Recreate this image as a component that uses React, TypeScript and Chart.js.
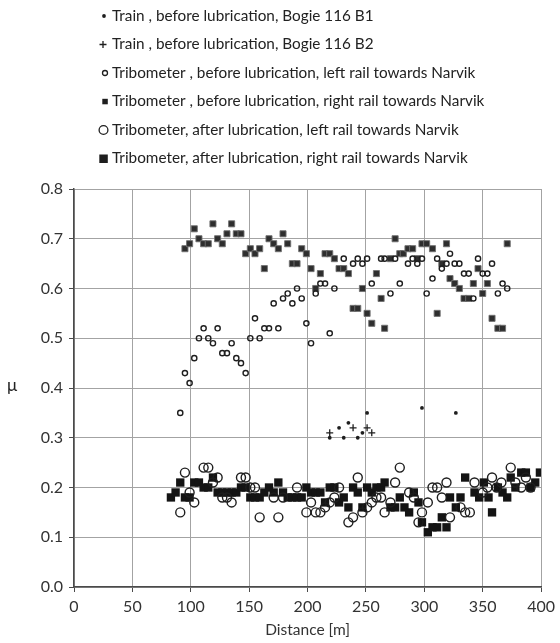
import React, { useEffect, useRef } from 'react';
import { Chart, registerables } from 'chart.js';

Chart.register(...registerables);

// Train, before lubrication, Bogie 116 B1
const distTrainB1 = [219, 227, 231, 235, 243, 247, 251, 298, 327];
const muTrainB1 = [0.30, 0.32, 0.30, 0.33, 0.30, 0.31, 0.35, 0.36, 0.35];

// Train, before lubrication, Bogie 116 B2
const distTrainB2 = [219, 239, 251, 255];
const muTrainB2 = [0.31, 0.32, 0.32, 0.31];

// Tribometer, before lubrication, left rail
const distBeforeLeft = [91, 95, 99, 103, 107, 111, 115, 119, 123, 127, 131, 135, 139, 143, 147, 151, 155, 159, 163, 167, 171, 175, 179, 183, 187, 191, 195, 199, 203, 207, 211, 215, 219, 223, 231, 239, 243, 247, 251, 255, 263, 266, 271, 275, 279, 286, 290, 294, 298, 302, 307, 311, 315, 319, 322, 326, 330, 334, 338, 342, 346, 350, 354, 358, 363, 367, 371];
const muBeforeLeft = [0.35, 0.43, 0.41, 0.46, 0.50, 0.52, 0.50, 0.49, 0.52, 0.47, 0.47, 0.49, 0.46, 0.45, 0.43, 0.50, 0.54, 0.50, 0.52, 0.52, 0.57, 0.52, 0.58, 0.59, 0.57, 0.60, 0.58, 0.53, 0.49, 0.59, 0.61, 0.61, 0.51, 0.60, 0.66, 0.65, 0.66, 0.65, 0.66, 0.61, 0.66, 0.66, 0.59, 0.66, 0.61, 0.65, 0.66, 0.65, 0.66, 0.59, 0.62, 0.66, 0.64, 0.65, 0.67, 0.65, 0.65, 0.63, 0.63, 0.58, 0.66, 0.63, 0.63, 0.65, 0.59, 0.61, 0.60];

// Tribometer, before lubrication, right rail
const distBeforeRight = [95, 99, 103, 107, 111, 115, 119, 123, 127, 131, 135, 139, 143, 147, 151, 155, 159, 163, 167, 171, 175, 179, 183, 187, 191, 195, 199, 203, 207, 211, 215, 219, 223, 227, 231, 235, 239, 243, 247, 251, 255, 259, 263, 266, 271, 275, 279, 282, 286, 290, 294, 298, 302, 307, 311, 315, 319, 322, 326, 330, 334, 338, 342, 346, 350, 354, 358, 363, 367, 371];
const muBeforeRight = [0.68, 0.69, 0.72, 0.70, 0.69, 0.69, 0.73, 0.70, 0.69, 0.71, 0.73, 0.71, 0.71, 0.67, 0.68, 0.67, 0.68, 0.64, 0.70, 0.69, 0.68, 0.71, 0.69, 0.65, 0.65, 0.68, 0.67, 0.64, 0.60, 0.63, 0.67, 0.67, 0.66, 0.64, 0.64, 0.63, 0.56, 0.56, 0.60, 0.55, 0.53, 0.63, 0.58, 0.52, 0.66, 0.70, 0.67, 0.67, 0.68, 0.68, 0.66, 0.69, 0.69, 0.68, 0.55, 0.65, 0.69, 0.62, 0.61, 0.60, 0.58, 0.58, 0.61, 0.64, 0.59, 0.61, 0.54, 0.52, 0.52, 0.69];

// Tribometer, after lubrication, left rail
const distAfterLeft = [91, 95, 99, 103, 111, 115, 119, 123, 127, 131, 135, 143, 147, 151, 155, 159, 171, 175, 179, 191, 199, 203, 207, 211, 215, 219, 223, 227, 235, 239, 243, 247, 251, 255, 259, 263, 266, 271, 275, 279, 287, 291, 295, 298, 303, 307, 311, 315, 319, 322, 331, 335, 339, 343, 350, 354, 358, 362, 366, 374, 378, 383, 387, 391];
const muAfterLeft = [0.15, 0.23, 0.19, 0.17, 0.24, 0.24, 0.21, 0.22, 0.18, 0.18, 0.17, 0.22, 0.22, 0.20, 0.20, 0.14, 0.18, 0.14, 0.18, 0.20, 0.15, 0.17, 0.15, 0.15, 0.16, 0.17, 0.18, 0.20, 0.13, 0.14, 0.22, 0.15, 0.16, 0.17, 0.18, 0.18, 0.15, 0.17, 0.21, 0.24, 0.19, 0.18, 0.13, 0.15, 0.17, 0.20, 0.20, 0.18, 0.21, 0.14, 0.16, 0.15, 0.15, 0.21, 0.19, 0.20, 0.22, 0.20, 0.21, 0.24, 0.21, 0.20, 0.22, 0.20];

// Tribometer, after lubrication, right rail
const distAfterRight = [83, 87, 91, 95, 99, 103, 107, 111, 115, 119, 123, 127, 131, 135, 139, 143, 147, 151, 155, 159, 163, 167, 171, 175, 179, 183, 187, 191, 195, 199, 203, 207, 211, 215, 219, 223, 227, 231, 235, 239, 243, 247, 251, 255, 259, 263, 266, 271, 275, 279, 283, 287, 291, 295, 298, 303, 307, 311, 315, 319, 322, 327, 331, 335, 343, 347, 351, 355, 358, 363, 367, 371, 374, 378, 383, 387, 391, 395, 399];
const muAfterRight = [0.18, 0.19, 0.21, 0.18, 0.18, 0.21, 0.21, 0.20, 0.20, 0.22, 0.19, 0.19, 0.19, 0.19, 0.19, 0.20, 0.20, 0.18, 0.18, 0.18, 0.19, 0.20, 0.19, 0.21, 0.19, 0.18, 0.18, 0.18, 0.18, 0.20, 0.19, 0.19, 0.19, 0.17, 0.20, 0.20, 0.17, 0.18, 0.16, 0.20, 0.19, 0.16, 0.20, 0.19, 0.20, 0.20, 0.21, 0.16, 0.16, 0.18, 0.16, 0.15, 0.19, 0.17, 0.13, 0.11, 0.12, 0.12, 0.14, 0.12, 0.18, 0.16, 0.18, 0.22, 0.19, 0.18, 0.21, 0.18, 0.15, 0.20, 0.19, 0.18, 0.22, 0.20, 0.23, 0.23, 0.20, 0.21, 0.23];

const seriesLabels = [
  'Train , before lubrication, Bogie 116 B1',
  'Train , before lubrication, Bogie 116 B2',
  'Tribometer , before lubrication, left rail towards Narvik',
  'Tribometer , before lubrication, right rail towards Narvik',
  'Tribometer, after lubrication, left rail towards Narvik',
  'Tribometer, after lubrication, right rail towards Narvik',
];
const xTitle = 'Distance [m]';
const yTitle = 'μ';

const FONT = 'Lato';
const INK = '#1e1e1e';

function pts(xs: number[], ys: number[]) {
  return xs.map((x, i) => ({ x, y: ys[i] }));
}

export default function App() {
  const ref = useRef<HTMLCanvasElement>(null);

  useEffect(() => {
    if (!ref.current) return;

    const legendPlugin = {
      id: 'customLegend',
      afterDraw(chart: any) {
        const ctx: CanvasRenderingContext2D = chart.ctx;
        ctx.save();
        const rows = [16, 44.5, 73, 101.5, 130, 158.5];
        ctx.font = `15.3px ${FONT}`;
        ctx.textBaseline = 'middle';
        ctx.textAlign = 'left';
        const textX = 112;
        rows.forEach((y, i) => {
          ctx.fillStyle = INK;
          ctx.strokeStyle = INK;
          if (i === 0) {
            ctx.beginPath();
            ctx.arc(104, y, 1.9, 0, Math.PI * 2);
            ctx.fill();
          } else if (i === 1) {
            ctx.lineWidth = 1.3;
            ctx.beginPath();
            ctx.moveTo(99.5, y);
            ctx.lineTo(106.5, y);
            ctx.moveTo(103, y - 3.5);
            ctx.lineTo(103, y + 3.5);
            ctx.stroke();
          } else if (i === 2) {
            ctx.lineWidth = 1.3;
            ctx.beginPath();
            ctx.arc(105, y, 2.5, 0, Math.PI * 2);
            ctx.stroke();
          } else if (i === 3) {
            ctx.fillRect(102.3, y - 2.7, 5.5, 5.5);
          } else if (i === 4) {
            ctx.lineWidth = 1.3;
            ctx.beginPath();
            ctx.arc(103.5, y, 4.4, 0, Math.PI * 2);
            ctx.stroke();
          } else {
            ctx.fillRect(99.3, y - 4, 8.5, 8.5);
          }
          ctx.fillStyle = '#222';
          ctx.fillText(seriesLabels[i], textX, y);
        });
        // y-axis title, upright
        ctx.font = `17px ${FONT}`;
        ctx.textAlign = 'center';
        ctx.fillStyle = '#222';
        ctx.fillText(yTitle, 12, 386);
        ctx.restore();
      },
    };

    const tickFont = { family: FONT, size: 16 };

    const chart = new Chart(ref.current, {
      type: 'scatter',
      data: {
        datasets: [
          {
            label: seriesLabels[0],
            data: pts(distTrainB1, muTrainB1),
            pointStyle: 'circle',
            pointRadius: 1.9,
            backgroundColor: INK,
            borderColor: INK,
            borderWidth: 0,
          },
          {
            label: seriesLabels[1],
            data: pts(distTrainB2, muTrainB2),
            pointStyle: 'cross',
            pointRadius: 3.5,
            borderColor: INK,
            borderWidth: 1.3,
          },
          {
            label: seriesLabels[2],
            data: pts(distBeforeLeft, muBeforeLeft),
            pointStyle: 'circle',
            pointRadius: 2.6,
            backgroundColor: 'rgba(255,255,255,0)',
            borderColor: INK,
            borderWidth: 1.4,
          },
          {
            label: seriesLabels[3],
            data: pts(distBeforeRight, muBeforeRight),
            pointStyle: 'rect',
            pointRadius: 4.3,
            backgroundColor: '#2e2e2e',
            borderColor: '#707070',
            borderWidth: 0.9,
          },
          {
            label: seriesLabels[4],
            data: pts(distAfterLeft, muAfterLeft),
            pointStyle: 'circle',
            pointRadius: 4.5,
            backgroundColor: 'rgba(255,255,255,0)',
            borderColor: INK,
            borderWidth: 1.4,
          },
          {
            label: seriesLabels[5],
            data: pts(distAfterRight, muAfterRight),
            pointStyle: 'rect',
            pointRadius: 5.9,
            backgroundColor: '#141414',
            borderColor: '#141414',
            borderWidth: 0,
          },
        ],
      },
      options: {
        responsive: false,
        animation: false,
        events: [],
        layout: { padding: { top: 189, left: 0, right: 12, bottom: 0 } },
        plugins: {
          legend: { display: false },
          tooltip: { enabled: false },
        },
        scales: {
          x: {
            type: 'linear',
            min: 0,
            max: 400,
            ticks: {
              stepSize: 50,
              font: tickFont,
              color: '#333',
              padding: 5,
              maxRotation: 0,
            },
            grid: { color: '#a3a3a3', lineWidth: 1, tickLength: 5, tickColor: '#4a4a4a' },
            border: { color: '#4a4a4a', width: 1.5 },
            title: {
              display: true,
              text: xTitle,
              font: { family: FONT, size: 15.5 },
              color: '#333',
              padding: { top: 0, bottom: 4 },
            },
            afterFit(scale: any) {
              scale.height = 56;
            },
          },
          y: {
            type: 'linear',
            min: 0,
            max: 0.8,
            ticks: {
              stepSize: 0.1,
              font: tickFont,
              color: '#333',
              padding: 6,
              callback: (v: any) => Number(v).toFixed(1),
            },
            grid: { color: '#a3a3a3', lineWidth: 1, tickLength: 5, tickColor: '#4a4a4a' },
            border: { color: '#4a4a4a', width: 1.5 },
            afterFit(scale: any) {
              scale.width = 74;
            },
          },
        },
      },
      plugins: [legendPlugin],
    } as any);

    return () => chart.destroy();
  }, []);

  return (
    <div style={{ position: 'absolute', left: 0, top: 0, width: 560, height: 643, background: '#fff' }}>
      <canvas ref={ref} width={560} height={643} style={{ display: 'block', width: 560, height: 643 }} />
    </div>
  );
}
